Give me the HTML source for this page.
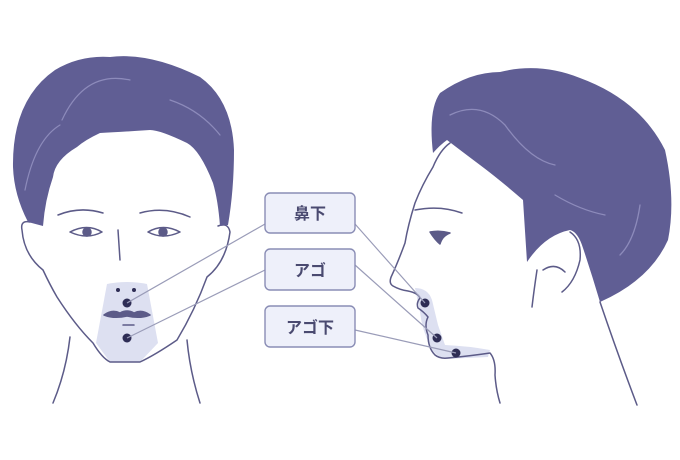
<!DOCTYPE html>
<html><head><meta charset="utf-8"><style>
html,body{margin:0;padding:0;background:#fff;}
svg{display:block}
text{font-family:"Liberation Sans","Noto Sans CJK JP",sans-serif;font-weight:bold;fill:#4a4a70}
</style></head><body>
<svg width="680" height="460" viewBox="0 0 680 460" xmlns="http://www.w3.org/2000/svg">
<g fill="none" stroke="#5c5b88" stroke-width="1.5" stroke-linecap="round" stroke-linejoin="round">
<!-- LEFT FACE -->
<path d="M107 284 Q127 280 147 284 L158 343 L140 362 L110 362 L96 343 Z" fill="#dde0f1" stroke="none"/>
<path d="M30 222 Q20 220 22 230 Q24 255 43 270 Q50 285 57 297 Q75 325 93 343 Q102 358 110 362 L140 362 Q155 355 177 340 Q195 310 207 277 Q226 262 230 232 Q228 222 218 226"/>
<path d="M70 337 Q66 372 53 403 M187 340 Q190 372 200 403"/>
<path d="M13 167 Q12 100 55 70 Q80 55 110 57 Q150 52 200 77 Q232 100 234 150 Q234 190 228 225 L220 226 Q218 200 213 183 Q200 150 187 143 Q160 130 150 130 Q120 132 100 133 Q85 140 77 147 Q55 160 53 177 Q45 200 43 226 L28 222 Q14 195 13 167 Z" fill="#605e94" stroke="none"/>
<path d="M58 215 Q80 206 103 213 M140 213 Q165 206 190 217"/>
<path d="M70 232 Q87 223 102 232 Q87 240 70 232 Z M148 232 Q163 223 180 232 Q163 240 148 232 Z"/>
<circle cx="87" cy="232" r="4" fill="#5c5b88"/><circle cx="163" cy="232" r="4" fill="#5c5b88"/>
<path d="M118 230 Q119 245 120 260"/>
<path d="M104 315 Q112 309 120 313 Q127 309 134 313 Q142 309 150 315 Q140 319 127 316 Q114 319 104 315 Z" fill="#5c5b88"/>
<path d="M123 325 L134 325"/>
</g>
<g fill="none" stroke="#8d8bbb" stroke-width="1.2" stroke-linecap="round">
<path d="M25 190 Q35 140 60 125"/>
<path d="M62 120 Q85 70 130 80"/>
<path d="M170 100 Q200 110 220 135"/>
</g>
<g fill="#2e2d55"><circle cx="118" cy="290" r="2"/><circle cx="134" cy="290" r="2"/><circle cx="127" cy="303" r="4.5"/><circle cx="127" cy="338" r="4.5"/></g>
<!-- RIGHT HEAD -->
<g fill="none" stroke="#5c5b88" stroke-width="1.5" stroke-linecap="round" stroke-linejoin="round">
<path d="M415 288 Q428 288 432 300 L438 325 L445 345 Q468 346 490 350 L488 357 L445 359 Q433 355 430 345 Q422 330 420 312 Z" fill="#dde0f1" stroke="none"/>
<path d="M450 143 Q440 150 433 167 Q422 185 415 203 Q408 225 405 243 Q398 262 392 275 Q388 283 393 286 Q400 290 408 291 Q418 293 420 298 Q416 303 418 308 Q424 312 428 317 Q424 325 428 335 Q428 348 435 355 Q440 359 448 358 Q470 356 490 353 Q496 360 495 375 Q496 390 500 403"/>
<path d="M433 153 Q428 110 440 93 Q470 72 500 72 Q540 62 580 78 Q640 100 665 150 Q676 200 668 240 Q650 280 600 302 Q592 275 583 248 Q578 232 570 230 Q545 235 527 262 L523 200 Q500 180 480 165 Q460 150 447 140 Q440 145 433 153 Z" fill="#605e94" stroke="none"/>
<path d="M570 232 Q582 240 580 260 Q575 282 562 292 M543 270 Q555 262 565 272"/>
<path d="M537 270 Q534 290 532 307"/>
<path d="M600 302 Q618 355 637 405"/>
<path d="M415 210 Q440 205 462 213"/>
<path d="M430 232 Q440 230 450 233 Q442 236 440 244 Q435 240 430 232 Z" fill="#5c5b88"/>
</g>
<g fill="none" stroke="#8d8bbb" stroke-width="1.3" stroke-linecap="round">
<path d="M450 115 Q480 100 505 125 Q530 160 555 165"/>
<path d="M555 195 Q580 210 605 215"/>
<path d="M640 205 Q635 240 620 255"/>
</g>
<g fill="#2e2d55"><circle cx="425" cy="303" r="4.5"/><circle cx="437" cy="338" r="4.5"/><circle cx="456" cy="353" r="4.5"/></g>
<!-- CONNECTORS -->
<g stroke="#9a9cb8" stroke-width="1.2" fill="none">
<path d="M265 224 L127 303 M265 270 L127 338 M355 224 L425 303 M355 265 L437 338 M355 330 L456 353"/>
</g>
<g fill="#eef0fa" stroke="#8a8db5" stroke-width="1.4">
<rect x="265" y="193" width="90" height="40" rx="5"/>
<rect x="265" y="249" width="90" height="41" rx="5"/>
<rect x="265" y="306" width="90" height="41" rx="5"/>
</g>
<text x="310" y="219" font-size="16" text-anchor="middle">鼻下</text>
<text x="310" y="276" font-size="16" text-anchor="middle">アゴ</text>
<text x="310" y="333" font-size="16" text-anchor="middle">アゴ下</text>
</svg>
</body></html>
